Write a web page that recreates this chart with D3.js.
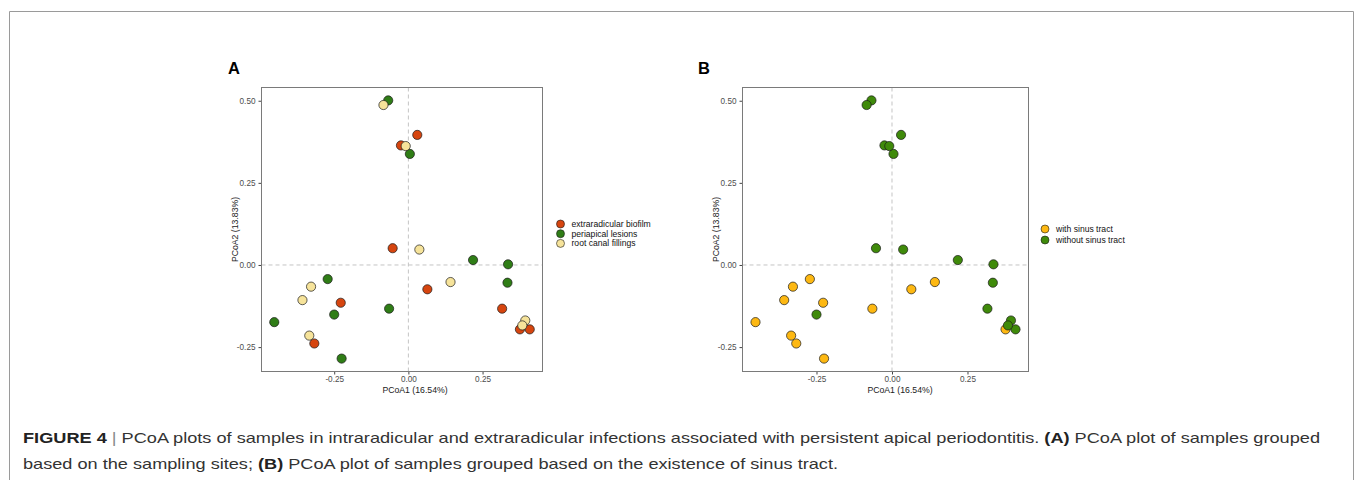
<!DOCTYPE html>
<html><head><meta charset="utf-8">
<script src="https://cdn.jsdelivr.net/npm/d3@7"></script>
<style>body{margin:0;background:#fff}svg{display:block;font-family:"Liberation Sans",Arial,sans-serif}</style>
</head><body><svg id="c" width="1355" height="480"></svg>
<script>
// ---- data ----
const pc1 = [0.030,-0.025,-0.053,0.064,-0.228,0.316,0.376,0.409,-0.317,
             -0.068,0.005,0.218,0.336,-0.272,0.334,-0.065,-0.250,-0.452,-0.225,
             -0.084,-0.009,0.037,-0.328,0.142,-0.357,0.394,0.384,-0.334];
const pc2 = [0.396,0.364,0.051,-0.074,-0.115,-0.133,-0.196,-0.196,-0.239,
             0.501,0.338,0.015,0.002,-0.043,-0.054,-0.133,-0.151,-0.174,-0.285,
             0.487,0.362,0.047,-0.066,-0.052,-0.107,-0.169,-0.184,-0.215];
const site = ["E","E","E","E","E","E","E","E","E",
              "P","P","P","P","P","P","P","P","P","P",
              "R","R","R","R","R","R","R","R","R"];
const sinus = ["N","N","N","W","W","N","W","N","W",
               "N","N","N","N","W","N","W","N","W","W",
               "N","N","N","W","W","W","N","N","W"];
const siteKeys = ["E","P","R"];
const siteLabels = ["extraradicular biofilm","periapical lesions","root canal fillings"];
const siteColors = ["#D6450F","#2F7D16","#F6E39A"];
const sinusKeys = ["W","N"];
const sinusLabels = ["with sinus tract","without sinus tract"];
const sinusColors = ["#FDB812","#3F8A0A"];
const xTicks = [-0.25,0,0.25];
const yTicks = [-0.25,0,0.25,0.5];
const tickLabel = v => (v<0?"-":"")+Math.abs(v).toFixed(2);
const xTitle = "PCoA1 (16.54%)", yTitle = "PCoA2 (13.83%)";

const svg = d3.select("#c");
// outer frame
svg.append("path").attr("d","M9.5,480V11.5H1353.5V480").attr("fill","none").attr("stroke","#9a9a9a").attr("stroke-width",1);

const samples = pc1.map((x,i)=>({x, y:pc2[i], site:site[i], sinus:sinus[i]}));
const xExt = d3.extent(pc1), yExt = d3.extent(pc2);
const xPad = (xExt[1]-xExt[0])*0.05, yPad = (yExt[1]-yExt[0])*0.05;

function panel(o){
  const x = d3.scaleLinear().domain([xExt[0]-xPad, xExt[1]+xPad]).range([o.left, o.right]);
  const y = d3.scaleLinear().domain([yExt[0]-yPad, yExt[1]+yPad]).range([o.bottom, o.top]);
  const g = svg.append("g");
  g.append("text").attr("x",o.labelX).attr("y",74).attr("font-weight","bold").attr("font-size",16.5).attr("fill","#000").text(o.label);
  // zero lines
  g.append("line").attr("x1",x(0)).attr("x2",x(0)).attr("y1",o.top).attr("y2",o.bottom)
    .attr("stroke","#c4c4c4").attr("stroke-dasharray","4,3").attr("stroke-width",1);
  g.append("line").attr("x1",o.left).attr("x2",o.right).attr("y1",y(0)).attr("y2",y(0))
    .attr("stroke","#c4c4c4").attr("stroke-dasharray","4,3").attr("stroke-width",1);
  // axes
  const xa = g.append("g").attr("transform",`translate(0,${o.bottom})`)
    .call(d3.axisBottom(x).tickValues(xTicks).tickFormat(tickLabel).tickSize(3).tickPadding(2));
  const ya = g.append("g").attr("transform",`translate(${o.left},0)`)
    .call(d3.axisLeft(y).tickValues(yTicks).tickFormat(tickLabel).tickSize(3).tickPadding(3));
  [xa,ya].forEach(a=>{
    a.select(".domain").remove();
    a.selectAll(".tick line").attr("stroke","#444");
    a.selectAll(".tick text").attr("fill","#4d4d4d").attr("font-size",8.2).attr("font-family","Liberation Sans, Arial, sans-serif");
  });
  g.append("rect").attr("x",o.left).attr("y",o.top).attr("width",o.right-o.left).attr("height",o.bottom-o.top)
    .attr("fill","none").attr("stroke","#7a7a7a").attr("stroke-width",1);
  g.append("text").attr("x",o.xTitleX).attr("y",392.5).attr("text-anchor","middle").attr("font-size",8.7).attr("fill","#222").text(xTitle);
  g.append("text").attr("transform",`translate(${o.yTitleX},${(o.top+o.bottom)/2}) rotate(-90)`).attr("text-anchor","middle")
    .attr("font-size",8.7).attr("fill","#222").text(yTitle);
  // points
  const data = samples.slice().sort((a,b)=>o.keys.indexOf(a[o.field])-o.keys.indexOf(b[o.field]));
  g.append("g").selectAll("circle").data(data).join("circle")
    .attr("cx",d=>x(d.x)).attr("cy",d=>y(d.y)).attr("r",4.6)
    .attr("fill",d=>o.colors[o.keys.indexOf(d[o.field])]).attr("stroke","#1a1a1a").attr("stroke-width",0.7);
  // legend
  const lg = g.append("g");
  o.labels.forEach((lab,i)=>{
    const cy = o.legY + i*o.legStep;
    lg.append("circle").attr("cx",o.legX).attr("cy",cy).attr("r",4).attr("fill",o.colors[i]).attr("stroke","#1a1a1a").attr("stroke-width",0.6);
    lg.append("text").attr("x",o.legX+11).attr("y",cy+3).attr("font-size",8.6).attr("fill","#111").text(lab);
  });
}

panel({left:261.5,right:542.5,top:87.5,bottom:371.5,label:"A",labelX:228,xTitleX:415,yTitleX:238,
  field:"site",keys:siteKeys,labels:siteLabels,colors:siteColors,legX:560.5,legY:224,legStep:9.7});
panel({left:742.5,right:1028.5,top:87.5,bottom:371.5,label:"B",labelX:698,xTitleX:900,yTitleX:719,
  field:"sinus",keys:sinusKeys,labels:sinusLabels,colors:sinusColors,legX:1045,legY:229,legStep:11});

// caption
const cap1 = svg.append("text").attr("x",23).attr("y",443).attr("font-size",15).attr("fill","#333")
  .attr("textLength",1297).attr("lengthAdjust","spacingAndGlyphs");
cap1.append("tspan").attr("font-weight","bold").attr("fill","#222").text("FIGURE 4");
cap1.append("tspan").attr("fill","#888").text(" | ");
cap1.append("tspan").text("PCoA plots of samples in intraradicular and extraradicular infections associated with persistent apical periodontitis. ");
cap1.append("tspan").attr("font-weight","bold").attr("fill","#222").text("(A)");
cap1.append("tspan").text(" PCoA plot of samples grouped");
const cap2 = svg.append("text").attr("x",23).attr("y",469).attr("font-size",15).attr("fill","#333")
  .attr("textLength",815).attr("lengthAdjust","spacingAndGlyphs");
cap2.append("tspan").text("based on the sampling sites; ");
cap2.append("tspan").attr("font-weight","bold").attr("fill","#222").text("(B)");
cap2.append("tspan").text(" PCoA plot of samples grouped based on the existence of sinus tract.");
</script></body></html>
